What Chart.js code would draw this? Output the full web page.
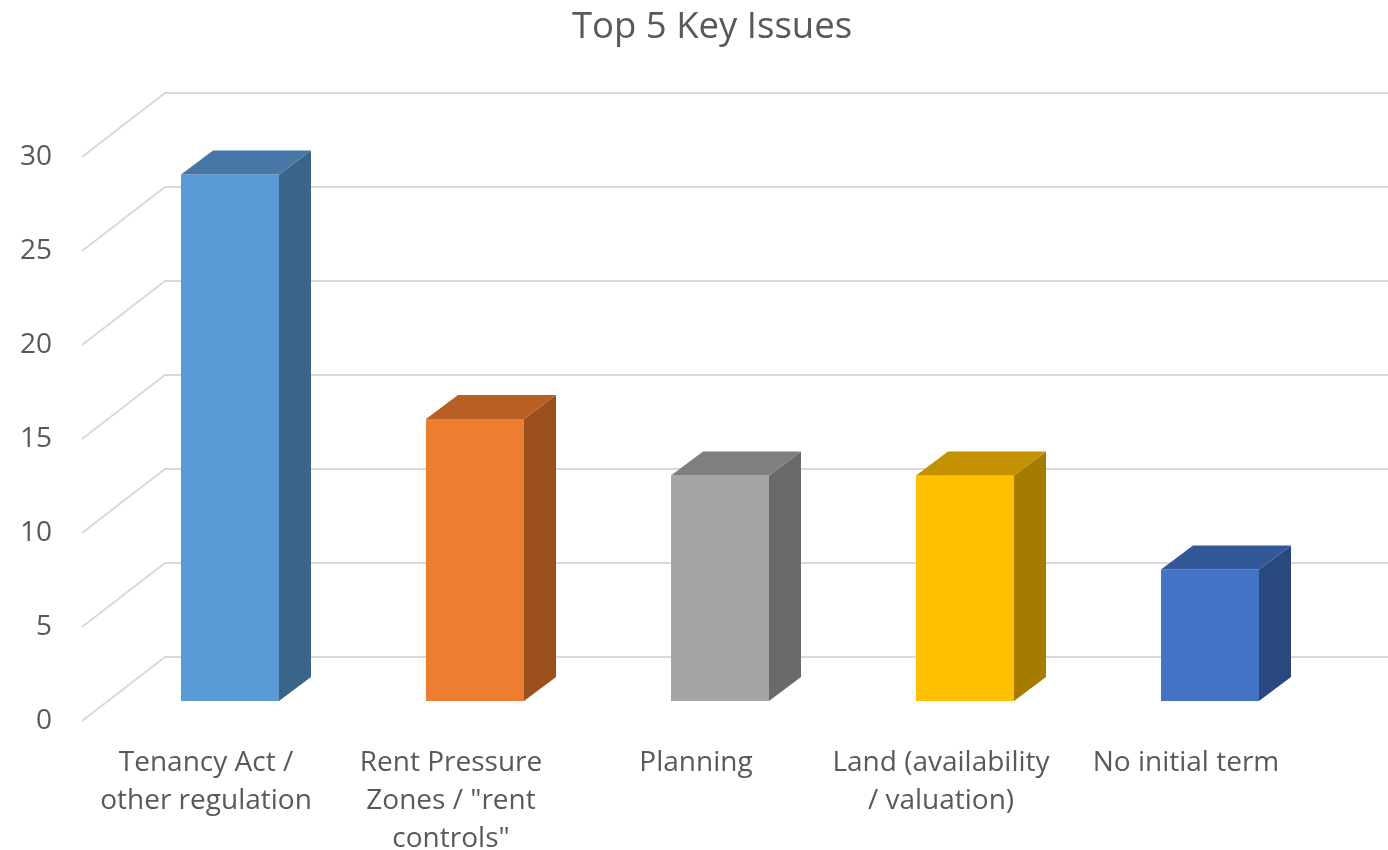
<!DOCTYPE html>
<html><head><meta charset="utf-8">
<script src="https://cdn.jsdelivr.net/npm/chart.js@4"></script>
<style>html,body{margin:0;padding:0;background:#fff}#wrap{width:1388px;height:850px;position:relative}</style>
</head><body><div id="wrap"><canvas id="c" width="1388" height="850"></canvas></div>
<script>
const titleText = 'Top 5 Key Issues';
const categories = [['Tenancy Act /','other regulation'],['Rent Pressure','Zones / "rent','controls"'],'Planning',['Land (availability','/ valuation)'],'No initial term'];
const values = [28, 15, 12, 12, 7];
const frontColors = ['#5B9BD5','#ED7D31','#A5A5A5','#FFC000','#4472C4'];
const topColors = ['#4677A6','#B85F23','#7F7F7F','#C49200','#33589A'];
const sideColors = ['#3A6489','#9A4F1C','#6A6A6A','#A67C00','#2A4880'];
const yMin = 0, yMax = 30, yStep = 5;

const DEPTH_X = 32, DEPTH_Y = -24;

const mctx = document.createElement('canvas').getContext('2d');
mctx.font = '28px Open Sans';
const widestTick = mctx.measureText(String(yMax)).width;

const wallPlugin = {
  id: 'wall3d',
  beforeDatasetsDraw(chart) {
    const ctx = chart.ctx, ys = chart.scales.y, ca = chart.chartArea;
    const fx = ca.left - 25.5, bx = ca.left + 57.5;
    ctx.save();
    ctx.strokeStyle = '#d9d9d9';
    ctx.lineWidth = 2;
    for (let v = yMin; v <= yMax; v += yStep) {
      const p = ys.getPixelForValue(v);
      ctx.beginPath();
      ctx.moveTo(fx, p + 20);
      ctx.lineTo(bx, p - 44);
      ctx.lineTo(chart.width, p - 44);
      ctx.stroke();
    }
    ctx.restore();
  },
  afterDatasetsDraw(chart) {
    const ctx = chart.ctx;
    const meta = chart.getDatasetMeta(0);
    ctx.save();
    meta.data.forEach((bar, i) => {
      const l = bar.x - bar.width / 2, r = bar.x + bar.width / 2;
      const t = bar.y, b = bar.base;
      ctx.fillStyle = sideColors[i];
      ctx.beginPath();
      ctx.moveTo(r, t); ctx.lineTo(r + DEPTH_X, t + DEPTH_Y);
      ctx.lineTo(r + DEPTH_X, b + DEPTH_Y); ctx.lineTo(r, b);
      ctx.closePath(); ctx.fill();
      ctx.fillStyle = topColors[i];
      ctx.beginPath();
      ctx.moveTo(l, t); ctx.lineTo(l + DEPTH_X, t + DEPTH_Y);
      ctx.lineTo(r + DEPTH_X, t + DEPTH_Y); ctx.lineTo(r, t);
      ctx.closePath(); ctx.fill();
    });
    ctx.restore();
  }
};

new Chart(document.getElementById('c'), {
  type: 'bar',
  data: {
    labels: categories,
    datasets: [{
      data: values,
      backgroundColor: frontColors,
      borderWidth: 0,
      categoryPercentage: 1,
      barPercentage: 0.4
    }]
  },
  plugins: [wallPlugin],
  options: {
    responsive: false,
    animation: false,
    devicePixelRatio: 1,
    layout: { padding: { left: 91.5, right: 55.5, top: 0, bottom: 0 } },
    plugins: {
      legend: { display: false },
      tooltip: { enabled: false },
      title: {
        display: true,
        text: titleText,
        color: '#595959',
        font: { family: 'Open Sans', size: 36.5, weight: 'normal', lineHeight: 1.2 },
        padding: { top: 6, bottom: 87.2 }
      }
    },
    scales: {
      x: {
        grid: { display: false },
        border: { display: false },
        ticks: {
          color: '#595959',
          font: { family: 'Open Sans', size: 28, lineHeight: 1.36 },
          padding: 35,
          labelOffset: -24,
          maxRotation: 0,
          minRotation: 0,
          autoSkip: false
        },
        afterFit(scale) { scale.height = 149; }
      },
      y: {
        min: yMin, max: yMax,
        grid: { display: false, drawTicks: false },
        border: { display: false },
        ticks: {
          stepSize: yStep,
          color: '#595959',
          font: { family: 'Open Sans', size: 28 },
          mirror: true,
          crossAlign: 'far',
          padding: -55.5 - widestTick,
          labelOffset: 20
        },
        afterFit(scale) { scale.width = 16; }
      }
    }
  }
});
</script>
</body></html>
